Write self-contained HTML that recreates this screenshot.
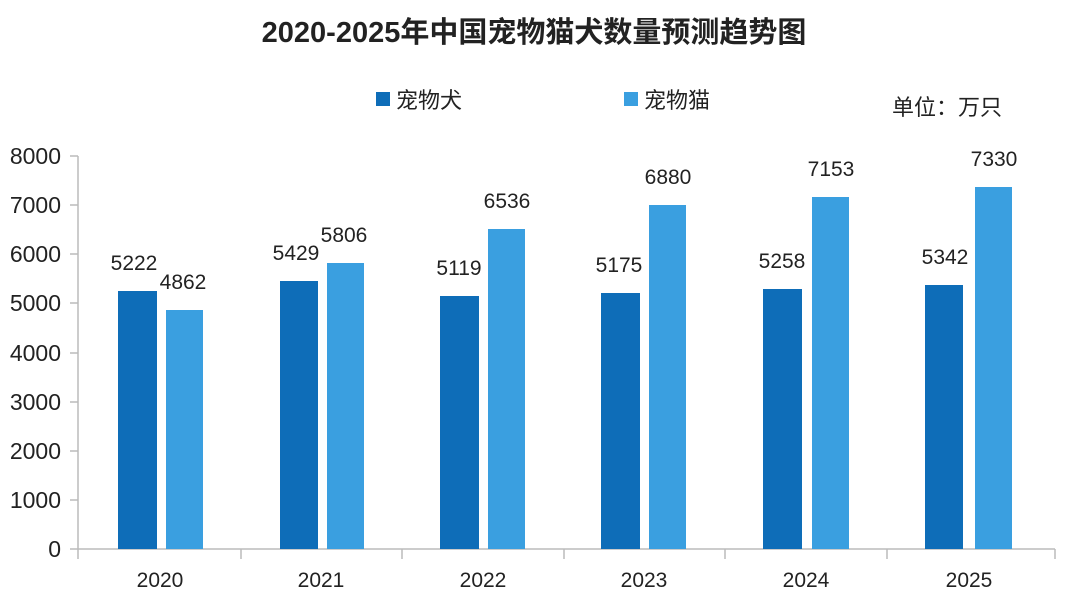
<!DOCTYPE html>
<html><head><meta charset="utf-8"><style>
body{margin:0;background:#fff;}
svg{display:block}
text{font-family:"Liberation Sans","Noto Sans CJK SC",sans-serif;fill:#222}
</style></head><body>
<svg width="1068" height="599" viewBox="0 0 1068 599">
<text x="534" y="42" text-anchor="middle" font-size="29" font-weight="bold">2020-2025年中国宠物猫犬数量预测趋势图</text>
<rect x="376" y="92" width="14" height="14" fill="#0e6db8"/>
<text x="396" y="108" font-size="22">宠物犬</text>
<rect x="624" y="92" width="14" height="14" fill="#3a9fe0"/>
<text x="644" y="108" font-size="22">宠物猫</text>
<text x="892" y="115" font-size="22">单位：万只</text>
<g stroke="#bbb" stroke-width="1.5">
<line x1="78" y1="156" x2="78" y2="549"/>
<line x1="78" y1="549" x2="1055" y2="549"/>
<line x1="70" y1="156" x2="78" y2="156"/><line x1="70" y1="205" x2="78" y2="205"/><line x1="70" y1="254" x2="78" y2="254"/><line x1="70" y1="303" x2="78" y2="303"/><line x1="70" y1="353" x2="78" y2="353"/><line x1="70" y1="402" x2="78" y2="402"/><line x1="70" y1="451" x2="78" y2="451"/><line x1="70" y1="500" x2="78" y2="500"/><line x1="70" y1="549" x2="78" y2="549"/>
<line x1="78" y1="549" x2="78" y2="559"/><line x1="241" y1="549" x2="241" y2="559"/><line x1="402" y1="549" x2="402" y2="559"/><line x1="564" y1="549" x2="564" y2="559"/><line x1="725" y1="549" x2="725" y2="559"/><line x1="887" y1="549" x2="887" y2="559"/><line x1="1055" y1="549" x2="1055" y2="559"/>
</g>
<g font-size="23" text-anchor="end">
<text x="61" y="164">8000</text><text x="61" y="213">7000</text><text x="61" y="262">6000</text><text x="61" y="311">5000</text><text x="61" y="361">4000</text><text x="61" y="410">3000</text><text x="61" y="459">2000</text><text x="61" y="508">1000</text><text x="61" y="557">0</text>
</g>
<g fill="#0e6db8">
<rect x="118" y="291" width="39" height="258"/>
<rect x="280" y="281" width="38" height="268"/>
<rect x="440" y="296" width="39" height="253"/>
<rect x="601" y="293" width="39" height="256"/>
<rect x="763" y="289" width="39" height="260"/>
<rect x="925" y="285" width="38" height="264"/>
</g>
<g fill="#3a9fe0">
<rect x="166" y="310" width="37" height="239"/>
<rect x="327" y="263" width="37" height="286"/>
<rect x="488" y="229" width="37" height="320"/>
<rect x="649" y="205" width="37" height="344"/>
<rect x="812" y="197" width="37" height="352"/>
<rect x="975" y="187" width="37" height="362"/>
</g>
<g font-size="21" text-anchor="middle">
<text x="134" y="270">5222</text><text x="183" y="289">4862</text>
<text x="296" y="260">5429</text><text x="344" y="242">5806</text>
<text x="459" y="275">5119</text><text x="507" y="208">6536</text>
<text x="619" y="272">5175</text><text x="668" y="184">6880</text>
<text x="782" y="268">5258</text><text x="831" y="176">7153</text>
<text x="945" y="264">5342</text><text x="994" y="166">7330</text>
</g>
<g font-size="21" text-anchor="middle">
<text x="160" y="587">2020</text><text x="321" y="587">2021</text><text x="483" y="587">2022</text><text x="644" y="587">2023</text><text x="806" y="587">2024</text><text x="969" y="587">2025</text>
</g>
</svg>
</body></html>
